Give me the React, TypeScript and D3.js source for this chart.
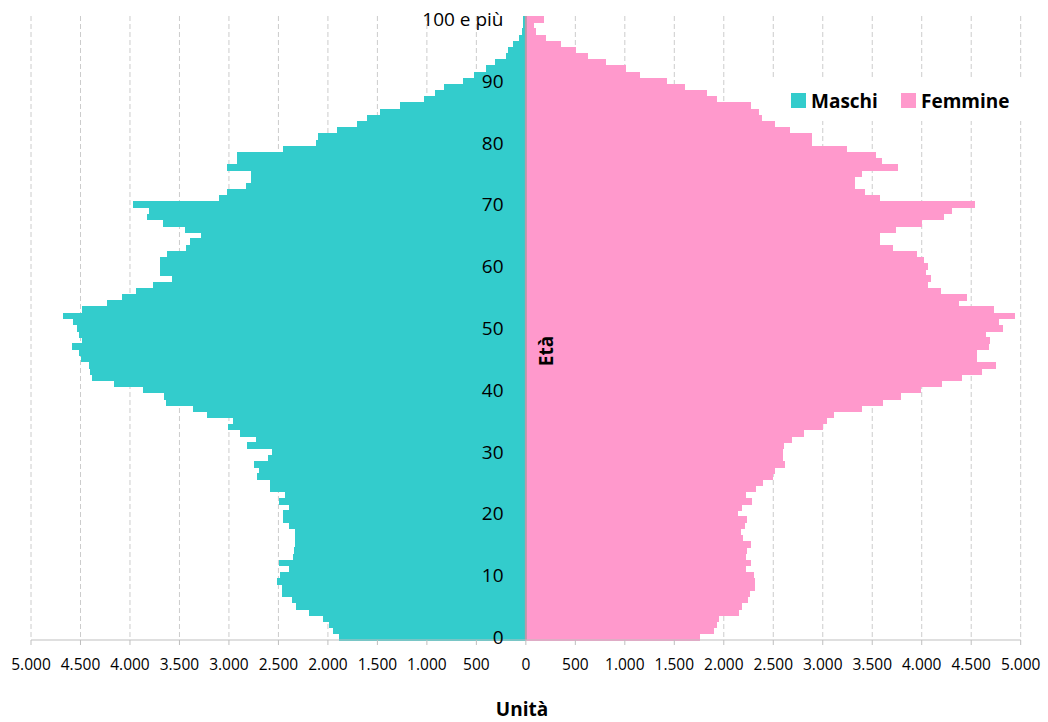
import * as React from "react";
import * as d3 from "d3";

// Popolazione per età e sesso (unità)
const ages = d3.range(0, 101);

const maschi = [
  1888, 1945, 1985, 2053, 2188, 2319, 2366, 2467, 2467, 2511,
  2484, 2390, 2497, 2352, 2342, 2336, 2330, 2330, 2390, 2450,
  2450, 2396, 2494, 2437, 2585, 2585, 2716, 2696, 2747, 2609,
  2562, 2814, 2727, 2888, 3010, 2956, 3225, 3364, 3637, 3654,
  3866, 4159, 4388, 4405, 4412, 4499, 4513, 4584, 4489, 4513,
  4540, 4580, 4675, 4486, 4230, 4085, 3940, 3768, 3579, 3697,
  3700, 3700, 3626, 3437, 3394, 3286, 3445, 3670, 3832, 3808,
  3967, 3104, 3017, 2828, 2780, 2780, 3017, 2916, 2916, 2457,
  2123, 2103, 1911, 1709, 1608, 1473, 1271, 1031, 917, 823,
  631, 523, 401, 310, 199, 176, 126, 67, 40, 30,
  30,
];

const femmine = [
  1762, 1900, 1934, 1951, 2156, 2183, 2247, 2267, 2314, 2314,
  2304, 2224, 2274, 2224, 2230, 2274, 2193, 2173, 2213, 2230,
  2143, 2180, 2281, 2220, 2325, 2392, 2493, 2520, 2614, 2601,
  2594, 2604, 2685, 2813, 3005, 3042, 3113, 3396, 3608, 3787,
  3989, 4208, 4410, 4612, 4750, 4558, 4555, 4676, 4686, 4646,
  4824, 4781, 4942, 4730, 4376, 4454, 4191, 4066, 4090, 4039,
  4066, 4026, 3955, 3706, 3578, 3578, 3736, 4006, 4228, 4309,
  4538, 3578, 3426, 3325, 3325, 3399, 3756, 3601, 3537, 3248,
  2887, 2887, 2672, 2517, 2385, 2358, 2277, 1927, 1829, 1607,
  1422, 1152, 1014, 809, 623, 502, 360, 199, 98, 81,
  182,
];

const ageTicks = [0, 10, 20, 30, 40, 50, 60, 70, 80, 90, 100];
const ageTickLabels = ["0", "10", "20", "30", "40", "50", "60", "70", "80", "90", "100 e più"];
const xTicks = [-5000, -4500, -4000, -3500, -3000, -2500, -2000, -1500, -1000, -500, 0,
  500, 1000, 1500, 2000, 2500, 3000, 3500, 4000, 4500, 5000];

const series = ["Maschi", "Femmine"];
const COLORS = { Maschi: "#33CCCC", Femmine: "#FF99CC" };

const W = 1048;
const H = 722;
const PLOT = { left: 31, right: 1020.7, top: 16, bottom: 640 };
const FONT = "'Open Sans', 'DejaVu Sans', sans-serif";

const it = d3.formatLocale({ decimal: ",", thousands: ".", grouping: [3], currency: ["€", ""] });
const fmt = it.format(",d");

export default function App() {
  const x = d3.scaleLinear().domain([-5000, 5000]).range([PLOT.left, PLOT.right]);
  const y = d3
    .scaleBand<number>()
    .domain(ages)
    .range([PLOT.bottom, PLOT.top])
    .padding(0);
  const bw = y.bandwidth();
  const x0 = x(0);

  return (
    <div style={{ position: "absolute", left: 0, top: 0, width: W, height: H, background: "#fff" }}>
      <svg width={W} height={H} style={{ display: "block", fontFamily: FONT }}>
        {/* vertical dashed gridlines */}
        {xTicks.map((t) => (
          <line
            key={`g-${t}`}
            x1={x(t)}
            x2={x(t)}
            y1={PLOT.top}
            y2={PLOT.bottom}
            stroke="#cccccc"
            strokeDasharray="5 3"
          />
        ))}

        {/* legend background hides gridlines */}
        <rect x={772} y={80} width={253} height={41} fill="#fff" />

        {/* bars */}
        <g shapeRendering="crispEdges">
          {ages.map((a, i) => (
            <rect
              key={`m-${a}`}
              x={x(-maschi[i])}
              y={y(a)!}
              width={x0 - x(-maschi[i])}
              height={bw + 0.5}
              fill={COLORS.Maschi}
            />
          ))}
          {ages.map((a, i) => (
            <rect
              key={`f-${a}`}
              x={x0}
              y={y(a)!}
              width={x(femmine[i]) - x0}
              height={bw + 0.5}
              fill={COLORS.Femmine}
            />
          ))}
        </g>

        {/* vertical axis line at 0 */}
        <line x1={x0} x2={x0} y1={PLOT.top} y2={PLOT.bottom} stroke="#b99aa8" strokeWidth={2} />

        {/* horizontal axis */}
        <line x1={PLOT.left} x2={PLOT.right} y1={PLOT.bottom} y2={PLOT.bottom} stroke="#bfbfbf" />
        {xTicks.map((t) => (
          <g key={`xt-${t}`}>
            <line x1={x(t)} x2={x(t)} y1={PLOT.bottom} y2={PLOT.bottom + 5} stroke="#bfbfbf" />
            <text x={x(t)} y={670} textAnchor="middle" fontSize={15.5} fill="#000">
              {fmt(Math.abs(t))}
            </text>
          </g>
        ))}

        {/* age labels */}
        {ageTicks.map((a, i) => (
          <text
            key={`yt-${a}`}
            x={503.5}
            y={y(a)! + bw / 2 + 7}
            textAnchor="end"
            fontSize={19}
            fill="#000"
          >
            {ageTickLabels[i]}
          </text>
        ))}

        {/* axis titles */}
        <text
          transform={`translate(553,351) rotate(-90)`}
          textAnchor="middle"
          fontSize={19}
          fontWeight="bold"
          fill="#000"
        >
          Età
        </text>
        <text x={522} y={716} textAnchor="middle" fontSize={19} fontWeight="bold" fill="#000">
          Unità
        </text>

        {/* legend */}
        {series.map((s, i) => {
          const lx = i === 0 ? 791 : 901;
          return (
            <g key={s}>
              <rect x={lx} y={93} width={15} height={15} fill={COLORS[s as keyof typeof COLORS]} />
              <text x={lx + 20} y={107.7} fontSize={19} fontWeight="bold" fill="#000">
                {s}
              </text>
            </g>
          );
        })}
      </svg>
    </div>
  );
}
